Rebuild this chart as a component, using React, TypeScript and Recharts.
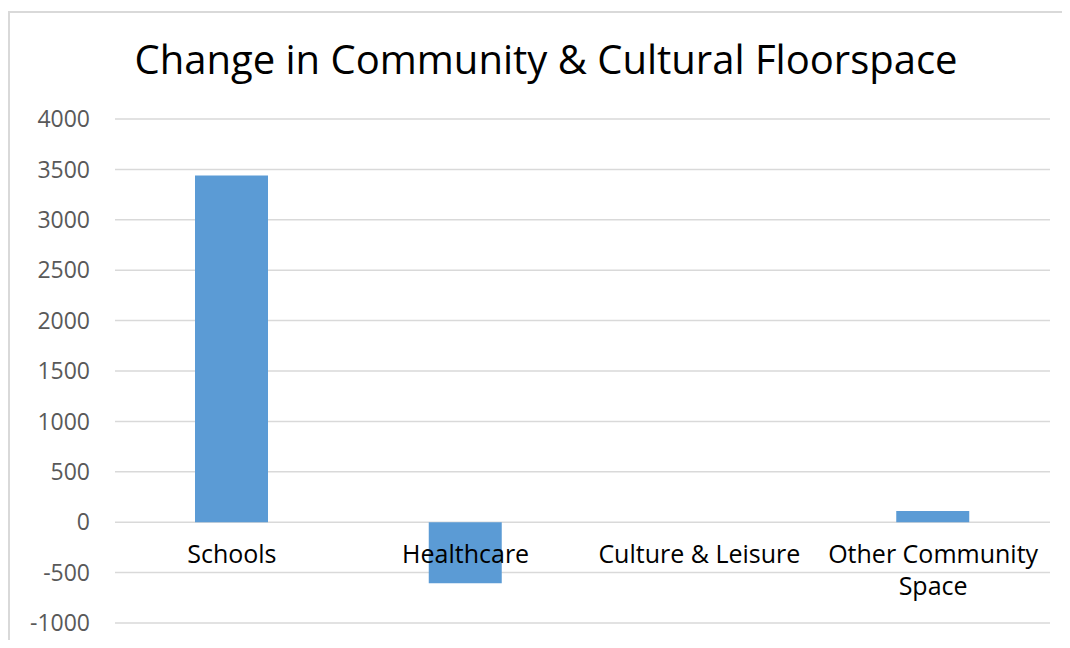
import { BarChart, Bar, XAxis, YAxis, CartesianGrid } from 'recharts'

const categories = ['Schools', 'Healthcare', 'Culture & Leisure', 'Other Community Space']
const floorspaceChange = [3440, -605, 0, 110]
const yTicks = [-1000, -500, 0, 500, 1000, 1500, 2000, 2500, 3000, 3500, 4000]

const data = categories.map((name, i) => ({ name, value: floorspaceChange[i] }))

const W = 1060
const H = 627
const MARGIN = { top: 106, right: 20, bottom: 16, left: 0 }
const PLOT_H = H - MARGIN.top - MARGIN.bottom - 1
const Y_MIN = yTicks[0]
const Y_MAX = yTicks[yTicks.length - 1]
const ZERO_Y = MARGIN.top + (PLOT_H * Y_MAX) / (Y_MAX - Y_MIN)
const FONT = '"Open Sans", "Liberation Sans", Arial, sans-serif'

// break long category names onto two lines, like the office chart does
function wrap(label: string, maxChars = 18) {
  const words = label.split(' ')
  const lines: string[] = []
  let cur = ''
  words.forEach((w) => {
    const next = cur ? cur + ' ' + w : w
    if (next.length > maxChars && cur) {
      lines.push(cur)
      cur = w
    } else {
      cur = next
    }
  })
  if (cur) lines.push(cur)
  return lines
}

function CategoryTick(props: any) {
  const { x, payload } = props
  const lines = wrap(String(payload.value))
  return (
    <text x={x} y={ZERO_Y + 41} textAnchor="middle" fill="#000" fontSize={25} fontFamily={FONT}>
      {lines.map((l, i) => (
        <tspan key={i} x={x} dy={i === 0 ? 0 : 32}>
          {l}
        </tspan>
      ))}
    </text>
  )
}

export default function App() {
  return (
    <div
      style={{
        position: 'relative',
        marginTop: 3,
        width: W + 2,
        height: H + 2,
        boxSizing: 'border-box',
        borderLeft: '2px solid #d9d9d9',
        borderTop: '2px solid #d9d9d9',
        overflow: 'hidden',
        background: '#fff',
      }}
    >
      <div
        style={{
          position: 'absolute',
          top: 26,
          left: 0,
          width: W,
          paddingLeft: 12,
          boxSizing: 'border-box',
          textAlign: 'center',
          fontFamily: FONT,
          fontSize: 40,
          lineHeight: '40px',
          color: '#000',
          zIndex: 2,
          pointerEvents: 'none',
        }}
      >
        Change in Community &amp; Cultural Floorspace
      </div>
      <BarChart width={W} height={H} data={data} margin={MARGIN} barCategoryGap={0}>
        <CartesianGrid vertical={false} stroke="#d9d9d9" strokeWidth={1.5} />
        <XAxis
          dataKey="name"
          height={1}
          axisLine={false}
          tickLine={false}
          interval={0}
          tick={<CategoryTick />}
        />
        <YAxis
          width={105}
          domain={[Y_MIN, Y_MAX]}
          ticks={yTicks}
          axisLine={false}
          tickLine={false}
          tickSize={0}
          tickMargin={25}
          tick={{ fill: '#595959', fontSize: 23, fontFamily: FONT }}
        />
        <Bar dataKey="value" fill="#5b9bd5" barSize={73} isAnimationActive={false} />
      </BarChart>
    </div>
  )
}
